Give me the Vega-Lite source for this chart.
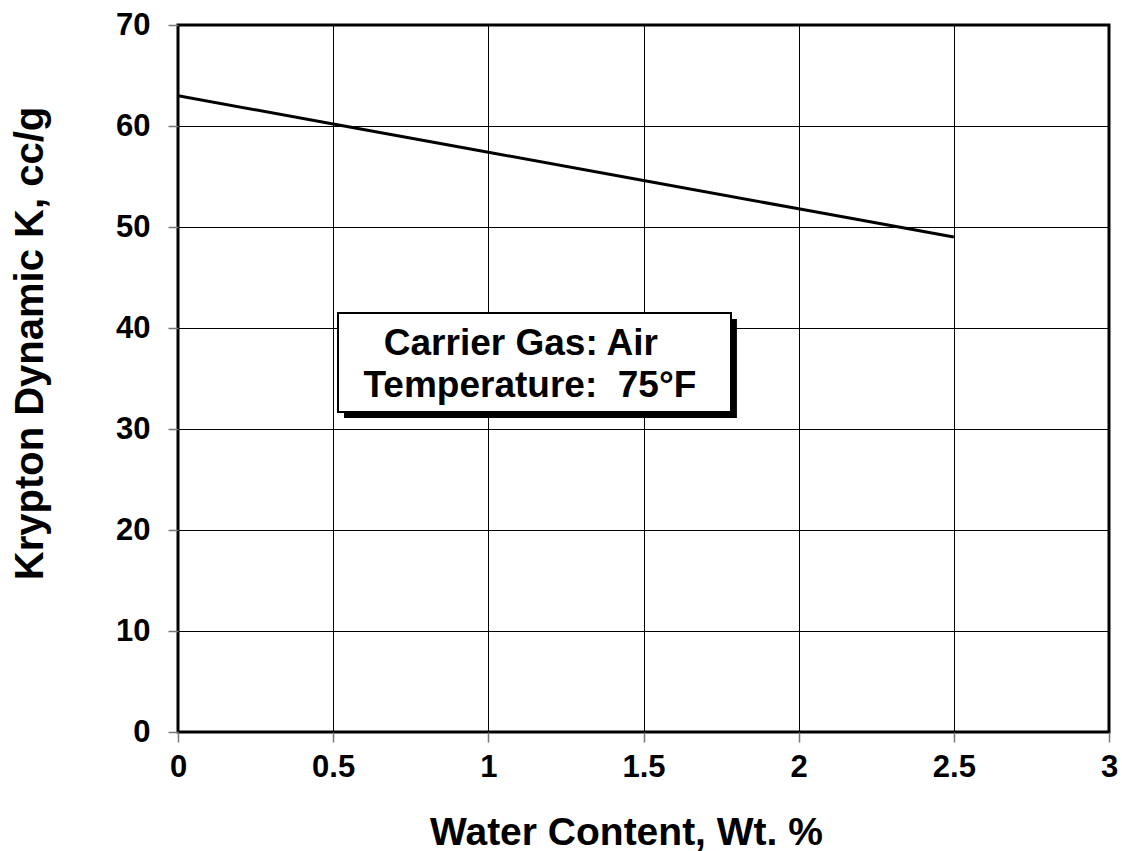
{
  "$schema": "https://vega.github.io/schema/vega-lite/v6.json",
  "width": 931,
  "height": 707,
  "autosize": {"type": "none"},
  "padding": {"left": 178, "top": 25, "right": 13, "bottom": 119},
  "background": "white",
  "config": {
    "view": {"stroke": "black", "strokeWidth": 3},
    "font": "Liberation Sans",
    "axis": {
      "grid": true,
      "gridColor": "black",
      "gridWidth": 1,
      "gridOpacity": 1,
      "domain": false,
      "tickColor": "#777777",
      "tickWidth": 1.5,
      "tickSize": 10,
      "labelFont": "Liberation Sans",
      "labelFontWeight": "bold",
      "labelFontSize": 31,
      "labelColor": "black",
      "titleFont": "Liberation Sans",
      "titleFontWeight": "bold",
      "titleFontSize": 39,
      "titleColor": "black"
    }
  },
  "datasets": {
    "curve": [
      {"water": 0, "k": 63},
      {"water": 0.5, "k": 60.2},
      {"water": 1, "k": 57.4},
      {"water": 1.5, "k": 54.6},
      {"water": 2, "k": 51.8},
      {"water": 2.5, "k": 49}
    ],
    "shadow": [{"x1": 0.535, "x2": 1.801, "y1": 31.09, "y2": 40.9}],
    "box": [{"x1": 0.5156, "x2": 1.782, "y1": 31.68, "y2": 41.49}],
    "notes": [
      {"tx": 1.105, "ty": 37.33, "label": "Carrier Gas: Air"},
      {"tx": 1.134, "ty": 33.17, "label": "Temperature: \u00a075°F"}
    ]
  },
  "layer": [
    {
      "data": {"name": "curve"},
      "mark": {"type": "line", "color": "black", "strokeWidth": 3, "clip": true},
      "encoding": {
        "x": {
          "field": "water",
          "type": "quantitative",
          "scale": {"domain": [0, 3], "nice": false},
          "axis": {
            "values": [0, 0.5, 1, 1.5, 2, 2.5, 3],
            "format": "~g",
            "title": "Water Content, Wt. %",
            "labelPadding": 10,
            "labelFlush": false,
            "titleX": 448,
            "titleY": 112,
            "titleBaseline": "alphabetic",
            "titleAlign": "center"
          }
        },
        "y": {
          "field": "k",
          "type": "quantitative",
          "scale": {"domain": [0, 70], "nice": false},
          "axis": {
            "values": [0, 10, 20, 30, 40, 50, 60, 70],
            "format": "~g",
            "title": "Krypton Dynamic K, cc/g",
            "labelPadding": 18,
            "labelFlush": false,
            "titleAngle": 270,
            "titleFontSize": 40,
            "titleX": -136,
            "titleY": 318,
            "titleBaseline": "alphabetic",
            "titleAlign": "center"
          }
        }
      }
    },
    {
      "data": {"name": "shadow"},
      "mark": {"type": "rect", "color": "black"},
      "encoding": {
        "x": {"field": "x1", "type": "quantitative"},
        "x2": {"field": "x2"},
        "y": {"field": "y1", "type": "quantitative"},
        "y2": {"field": "y2"}
      }
    },
    {
      "data": {"name": "box"},
      "mark": {"type": "rect", "fill": "white", "stroke": "black", "strokeWidth": 2},
      "encoding": {
        "x": {"field": "x1", "type": "quantitative"},
        "x2": {"field": "x2"},
        "y": {"field": "y1", "type": "quantitative"},
        "y2": {"field": "y2"}
      }
    },
    {
      "data": {"name": "notes"},
      "mark": {"type": "text", "font": "Liberation Sans", "fontWeight": "bold", "fontSize": 37, "align": "center", "baseline": "alphabetic", "color": "black"},
      "encoding": {
        "x": {"field": "tx", "type": "quantitative"},
        "y": {"field": "ty", "type": "quantitative"},
        "text": {"field": "label"}
      }
    }
  ]
}
